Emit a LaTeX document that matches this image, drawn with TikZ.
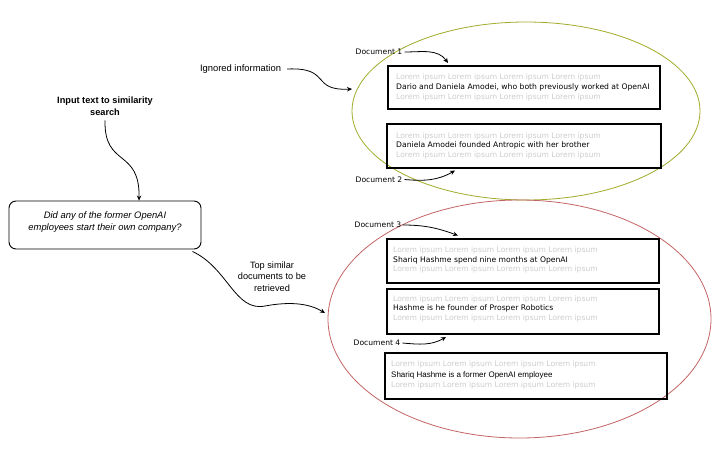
\documentclass[tikz,border=0pt]{standalone}
\usepackage{fontspec}
\setmainfont{Liberation Sans}
\newfontfamily\dv{DejaVu Sans}
\usetikzlibrary{arrows.meta,shapes.geometric}
\definecolor{ellgreen}{RGB}{160,172,40}
\definecolor{ellred}{RGB}{196,100,100}
\definecolor{loremgray}{RGB}{205,205,205}
\tikzset{
  arr/.style={-{Stealth[length=5pt,width=4.5pt]}, line width=0.8pt},
  docbox/.style={draw, line width=1.6pt, inner sep=0pt},
  ell/.style={ellipse, draw, line width=0.8pt, inner sep=0pt},
  maintxt/.style={anchor=west, inner sep=0pt, font=\dv\fontsize{7.65}{8}\selectfont},
  maintxtb/.style={anchor=west, inner sep=0pt, font=\fontsize{8}{9}\selectfont},
  lorem/.style={anchor=west, inner sep=0pt, text=loremgray, font=\dv\fontsize{7.6}{8}\selectfont},
  doclabel/.style={inner sep=0pt, font=\dv\fontsize{7.6}{9}\selectfont},
  lbl/.style={inner sep=0pt, align=center, font=\fontsize{9}{11.5}\selectfont},
}
\newcommand{\loremtxt}{Lorem ipsum Lorem ipsum Lorem ipsum Lorem ipsum}
\begin{document}
\begin{tikzpicture}[x=1pt,y=-1pt]
\useasboundingbox[fill=white] (0,0) rectangle (720,450);

% ellipses
\node[ell, draw=ellgreen, minimum width=348pt, minimum height=178pt] (eg) at (526,111) {};
\node[ell, draw=ellred, minimum width=383pt, minimum height=238pt] (er) at (519.5,319) {};

% document boxes
\node[docbox, minimum width=272pt, minimum height=43pt] (b1) at (524,87.5) {};
\node[docbox, minimum width=274pt, minimum height=44pt] (b2) at (524,146) {};
\node[docbox, minimum width=272pt, minimum height=44pt] (b3) at (523,261) {};
\node[docbox, minimum width=272pt, minimum height=45pt] (b4) at (523,311.5) {};
\node[docbox, minimum width=282pt, minimum height=46pt] (b5) at (526,376) {};

% box texts
\node[lorem] (l1a) at (396,77) {\loremtxt};
\node[maintxt] (t1) at (396,87) {Dario and Daniela Amodei, who both previously worked at OpenAI};
\node[lorem] (l1b) at (396,97) {\loremtxt};

\node[lorem] (l2a) at (396,136) {\loremtxt};
\node[maintxt] (t2) at (396,145.5) {Daniela Amodei founded Antropic with her brother};
\node[lorem] (l2b) at (396,155) {\loremtxt};

\node[lorem] (l3a) at (393,250) {\loremtxt};
\node[maintxt] (t3) at (393,260) {Shariq Hashme spend nine months at OpenAI};
\node[lorem] (l3b) at (393,269.5) {\loremtxt};

\node[lorem] (l4a) at (393,299) {\loremtxt};
\node[maintxt] (t4) at (393,308.5) {Hashme is he founder of Prosper Robotics};
\node[lorem] (l4b) at (393,318) {\loremtxt};

\node[lorem] (l5a) at (391,364) {\loremtxt};
\node[maintxtb] (t5) at (391,375) {Shariq Hashme is a former OpenAI employee};
\node[lorem] (l5b) at (391,385) {\loremtxt};

% document labels
\node[doclabel] (d1) at (379,52) {Document 1};
\node[doclabel] (d2) at (379,179.5) {Document 2};
\node[doclabel] (d3) at (378,225) {Document 3};
\node[doclabel] (d4) at (377,343) {Document 4};
\coordinate (d1t) at (448,63);
\coordinate (d2t) at (455,170.5);
\coordinate (d3t) at (458,235.5);
\coordinate (d4t) at (446,337);
\draw[arr] (d1.east) ++(2,0) to[out=0,in=125] (d1t);
\draw[arr] (d2.east) ++(2,0) to[out=-5,in=210] (d2t);
\draw[arr] (d3.east) ++(1,0) to[out=0,in=160] (d3t);
\draw[arr] (d4.east) ++(2,0) to[out=-5,in=210] (d4t);

% left side
\node[lbl, font=\fontsize{9.4}{11.5}\selectfont] (ign) at (240.5,69) {Ignored information};
\coordinate (igt) at (352,89);
\draw[arr] (ign.east) ++(6,0) .. controls (332,67) and (310,91) .. (igt);

\node[lbl, font=\bfseries\fontsize{9.2}{11.5}\selectfont] (inp) at (105,106) {Input text to similarity\\search};

\node[draw, rounded corners=7pt, line width=0.9pt, minimum width=192pt, minimum height=48pt, inner sep=0pt] (q) at (105,225) {};
\node[lbl, font=\itshape\fontsize{9.4}{11.5}\selectfont] (qt) at (105,222) {Did any of the former OpenAI\\employees start their own company?};

\draw[arr] (inp.south) ++(0,5) .. controls (104,168) and (140,148) .. (q.north -| 139,0);

\node[lbl, font=\fontsize{9.2}{11.5}\selectfont] (top) at (272,276.5) {Top similar\\documents to be\\retrieved};
\coordinate (tpt) at (325,313);
\draw[arr] (q.south east) ++(-9,2) .. controls (228,268) and (235,312) .. (265,306) .. controls (292,301) and (310,304) .. (tpt);
\end{tikzpicture}
\end{document}
